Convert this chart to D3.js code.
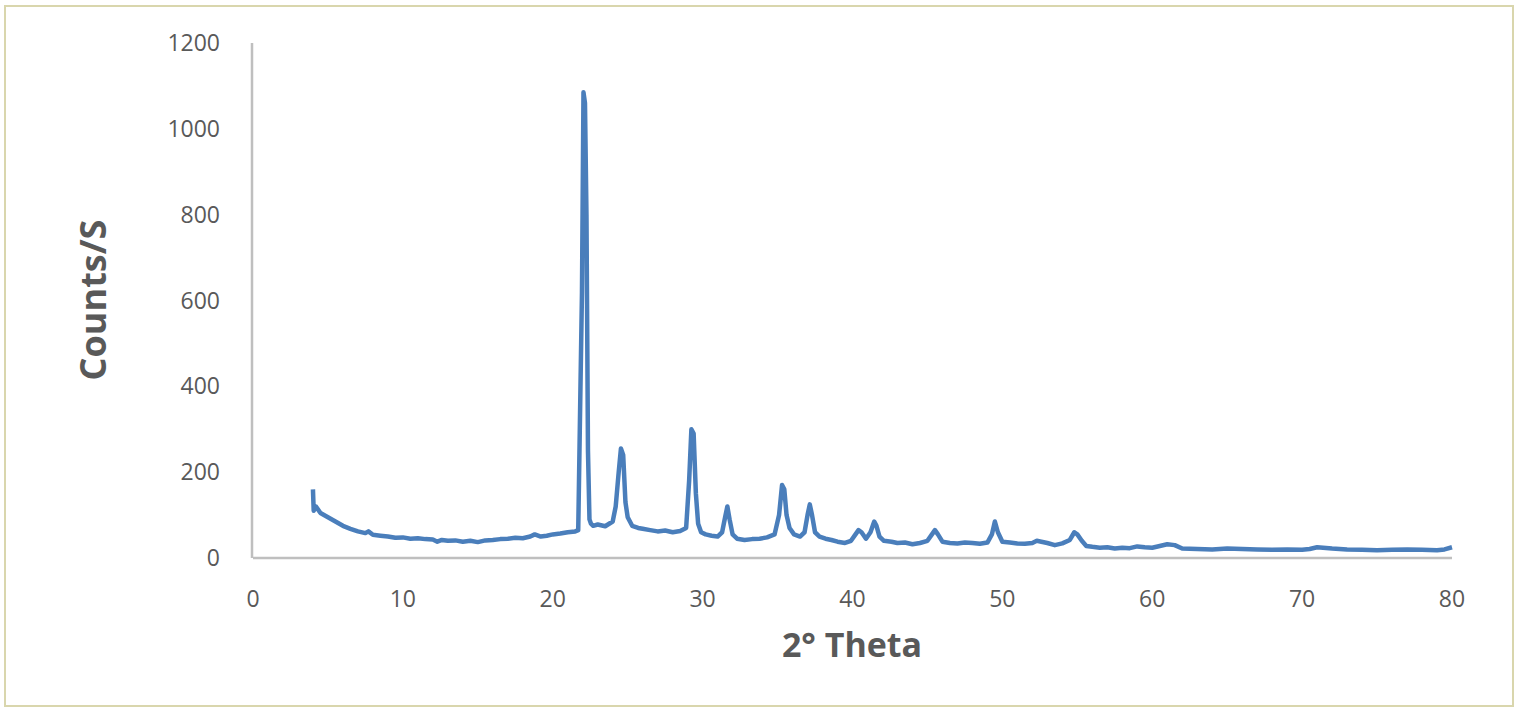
<!DOCTYPE html>
<html><head><meta charset="utf-8">
<script src="https://cdn.jsdelivr.net/npm/d3@7"></script>
<style>body{margin:0;background:#fff}</style>
</head><body><svg id="c" width="1520" height="711"></svg>
<script>
// diffraction pattern: 2θ and counts/s
const theta = [4,4.05,4.2,4.5,5,5.5,6,6.5,7,7.5,7.7,8,8.5,9,9.5,10,10.5,11,11.5,12,12.3,12.6,13,13.5,14,14.5,15,15.5,16,16.5,17,17.5,18,18.5,18.8,19.2,19.6,20,20.5,21,21.5,21.7,21.85,21.95,22.05,22.15,22.25,22.35,22.45,22.55,22.7,23,23.5,24,24.2,24.4,24.55,24.7,24.85,25,25.3,25.7,26,26.5,27,27.5,28,28.5,28.9,29.1,29.25,29.4,29.55,29.7,29.9,30.2,30.6,31,31.3,31.5,31.65,31.8,32,32.3,32.8,33.3,33.8,34.3,34.8,35.1,35.3,35.45,35.6,35.8,36.1,36.5,36.8,37,37.15,37.3,37.5,37.8,38.2,38.6,39,39.5,39.9,40.2,40.4,40.6,40.9,41.2,41.45,41.6,41.8,42.1,42.6,43,43.5,44,44.5,45,45.3,45.5,45.7,46,46.5,47,47.5,48,48.5,49,49.3,49.5,49.7,50,50.5,51,51.5,52,52.3,52.6,53,53.5,54,54.5,54.8,55,55.3,55.6,56,56.5,57,57.5,58,58.5,59,59.5,60,60.5,61,61.5,62,63,64,65,66,67,68,69,70,70.5,71,72,73,74,75,76,77,78,79,79.5,80];
const counts = [160,110,120,105,95,85,75,68,62,58,62,54,52,50,47,48,45,46,44,43,38,42,40,41,38,40,37,41,42,44,45,47,46,50,55,50,52,55,57,60,62,65,400,620,1085,1060,800,250,90,80,75,78,74,85,120,200,255,240,130,95,75,70,68,65,62,64,60,63,70,180,300,290,150,80,60,55,52,50,60,95,120,90,55,45,42,44,45,48,55,100,170,160,100,70,55,50,60,100,125,100,60,50,45,42,38,35,40,55,65,60,45,60,85,75,50,40,38,35,36,32,35,40,55,65,55,38,35,34,36,35,33,36,55,85,60,38,36,34,33,35,40,38,35,30,34,42,60,55,40,28,26,24,25,22,24,23,27,25,24,28,32,30,22,21,20,22,21,20,19,20,19,21,25,22,20,19,18,19,20,19,18,20,25,18];
const xTicks = [0,10,20,30,40,50,60,70,80];
const yTicks = [0,200,400,600,800,1000,1200];

const svg = d3.select("#c");
svg.append("rect").attr("x",5).attr("y",6).attr("width",1508).attr("height",700)
  .attr("fill","#fff").attr("stroke","#d9d6ad").attr("stroke-width",2);

const x = d3.scaleLinear().domain([0,80]).range([253,1452]);
const y = d3.scaleLinear().domain([0,1200]).range([558,43]);

// axis lines
svg.append("line").attr("x1",x(0)).attr("x2",x(80)).attr("y1",y(0)).attr("y2",y(0))
  .attr("stroke","#bfbfbf").attr("stroke-width",2.5);
svg.append("line").attr("x1",x(0)-1).attr("x2",x(0)-1).attr("y1",y(0)).attr("y2",y(1200))
  .attr("stroke","#bfbfbf").attr("stroke-width",2.5);

const font = "'Open Sans','Liberation Sans',sans-serif";
svg.selectAll(".yt").data(yTicks).enter().append("text")
  .attr("x",220).attr("y",d=>y(d)+8).attr("text-anchor","end")
  .attr("font-family",font).attr("font-size",23).attr("fill","#595959").text(d=>d);
svg.selectAll(".xt").data(xTicks).enter().append("text")
  .attr("x",d=>x(d)).attr("y",607).attr("text-anchor","middle")
  .attr("font-family",font).attr("font-size",23).attr("fill","#595959").text(d=>d);

svg.append("text").attr("x",852).attr("y",657).attr("text-anchor","middle")
  .attr("font-family",font).attr("font-size",34).attr("font-weight","bold")
  .attr("fill","#595959").text("2° Theta");
svg.append("text").attr("transform","translate(106,300) rotate(-90)").attr("text-anchor","middle")
  .attr("font-family","'Liberation Sans Narrow','Open Sans',sans-serif").attr("font-size",36).attr("font-weight","bold")
  .attr("fill","#595959").text("Counts/S");

const line = d3.line().x((d,i)=>x(theta[i])).y(d=>y(d));
svg.append("path").datum(counts).attr("d",line).attr("fill","none")
  .attr("stroke","#4a7ebb").attr("stroke-width",4.5).attr("stroke-linejoin","round");
</script></body></html>
